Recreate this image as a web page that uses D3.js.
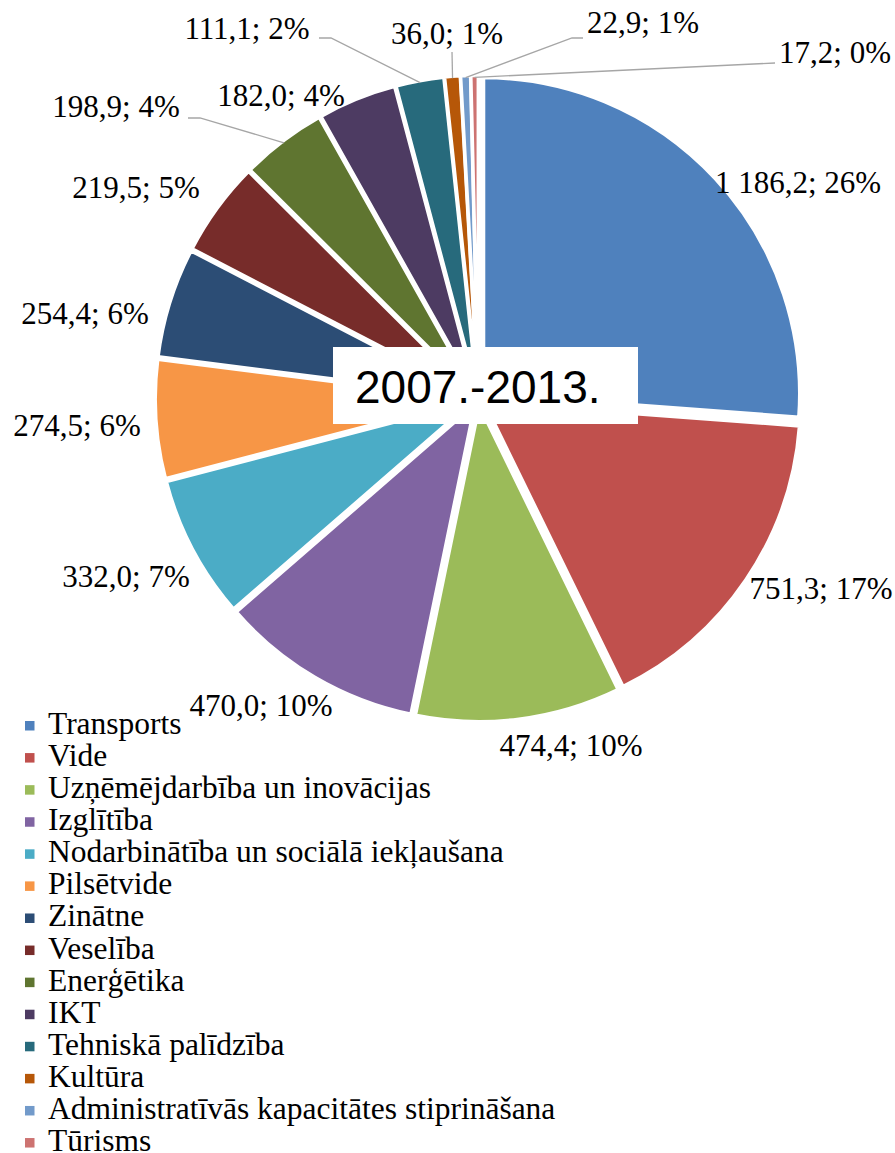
<html>
<head>
<meta charset="utf-8">
<script src="https://cdn.jsdelivr.net/npm/d3@7"></script>
</head>
<body style="margin:0">
<svg id="chart" width="895" height="1153" font-family="Times New Roman" style="display:block;background:#fff"></svg>
<script>
// ---------- data ----------
const categories = [
  "Transports", "Vide", "Uzņēmējdarbība un inovācijas", "Izglītība",
  "Nodarbinātība un sociālā iekļaušana", "Pilsētvide", "Zinātne", "Veselība",
  "Enerģētika", "IKT", "Tehniskā palīdzība", "Kultūra",
  "Administratīvās kapacitātes stiprināšana", "Tūrisms"
];
const values = [1186.2, 751.3, 474.4, 470.0, 332.0, 274.5, 254.4, 219.5, 198.9, 182.0, 111.1, 36.0, 22.9, 17.2];
const percentLabels = ["26%", "17%", "10%", "10%", "7%", "6%", "6%", "5%", "4%", "4%", "2%", "1%", "1%", "0%"];
const colors = ["#4F81BD", "#C0504D", "#9BBB59", "#8064A2", "#4BACC6", "#F79646", "#2C4D75",
                "#772C2A", "#5F7530", "#4D3B62", "#276A7C", "#B65708", "#729ACA", "#CD7371"];
const title = "2007.-2013.";

// ---------- layout ----------
const cx = 478.4, cy = 398.5, R = 316.2, explode = 7;
// label text centre x and baseline y
const labelPos = [
  [798, 193], [821, 599], [571, 756], [261, 716], [126, 587], [77, 436], [85, 324],
  [136, 198], [116, 117], [281, 106], [247, 39], [447, 44], [643, 33], [835, 63]
];
// leader line polylines (label side points)
const leaderPts = {
  8:  [[200, 118], [188, 118]],
  10: [[331, 38], [319, 38]],
  11: [[452, 52]],
  12: [[572, 38], [583, 38]],
  13: [[775, 63]]
};

const svg = d3.select("#chart");
const fmt = v => d3.format(",.1f")(v).replace(/,/g, " ").replace(".", ",");

const pie = d3.pie().sort(null).value(d => d).startAngle(0).endAngle(2 * Math.PI);
const arcs = pie(values);
const arc = d3.arc().innerRadius(0).outerRadius(R);

const g = svg.append("g").attr("transform", `translate(${cx},${cy})`);

g.selectAll("path.slice")
  .data(arcs)
  .join("path")
  .attr("class", "slice")
  .attr("d", arc)
  .attr("fill", (d, i) => colors[i])
  .attr("stroke", "#fff")
  .attr("stroke-width", 3.5)
  .attr("transform", d => {
    const a = (d.startAngle + d.endAngle) / 2;
    return `translate(${explode * Math.sin(a)},${-explode * Math.cos(a)})`;
  });

// leader lines
const lineGen = d3.line();
arcs.forEach((d, i) => {
  if (!leaderPts[i]) return;
  const a = (d.startAngle + d.endAngle) / 2;
  const rr = R + explode - 2;
  const p0 = [cx + rr * Math.sin(a), cy - rr * Math.cos(a)];
  svg.append("path")
    .attr("d", lineGen([p0, ...leaderPts[i]]))
    .attr("fill", "none")
    .attr("stroke", "#A6A6A6")
    .attr("stroke-width", 1.3);
});

// data labels
arcs.forEach((d, i) => {
  svg.append("text")
    .attr("x", labelPos[i][0])
    .attr("y", labelPos[i][1])
    .attr("text-anchor", "middle")
    .attr("font-size", 31)
    .attr("fill", "#000")
    .text(`${fmt(values[i])}; ${percentLabels[i]}`);
});

// title box
svg.append("rect")
  .attr("x", 333).attr("y", 347).attr("width", 305).attr("height", 77)
  .attr("fill", "#fff");
svg.append("text")
  .attr("x", 355).attr("y", 403)
  .attr("font-family", "Liberation Sans")
  .attr("font-size", 46)
  .attr("fill", "#000")
  .text(title);

// legend
const legY0 = 734, legStep = 32.08;
categories.forEach((c, i) => {
  const y = legY0 + i * legStep;
  svg.append("rect")
    .attr("x", 25).attr("y", y - 13).attr("width", 9.5).attr("height", 9.5)
    .attr("fill", colors[i]);
  svg.append("text")
    .attr("x", 48).attr("y", y)
    .attr("font-size", 31.5)
    .attr("fill", "#000")
    .text(c);
});
</script>
</body>
</html>
